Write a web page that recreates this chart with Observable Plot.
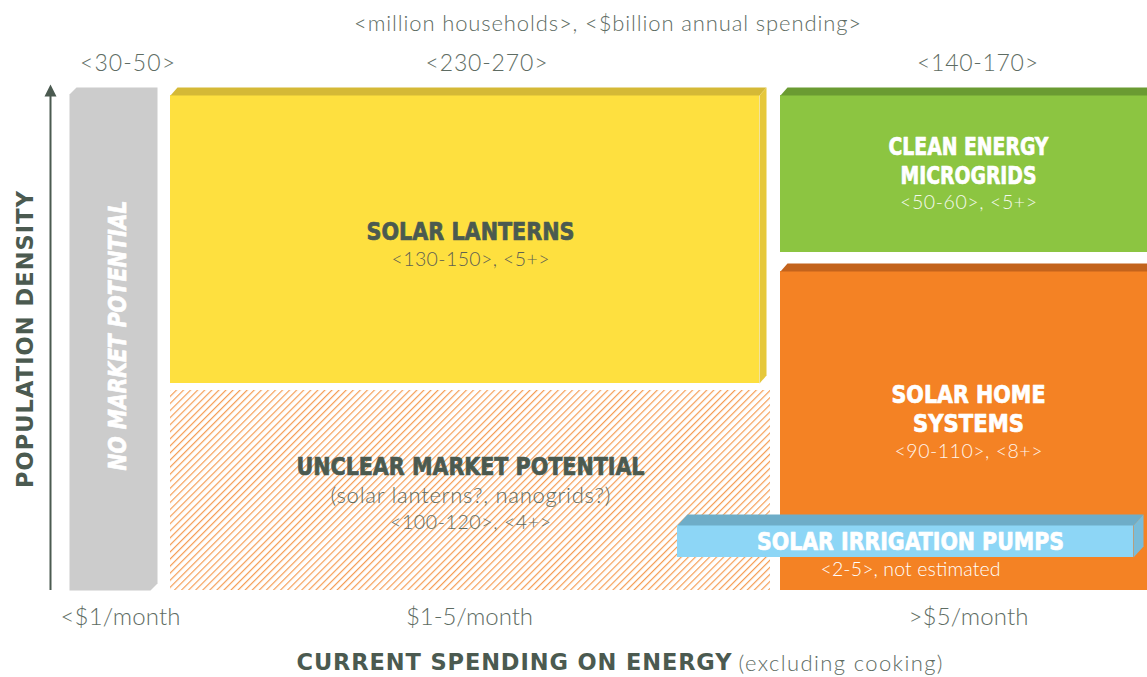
<!DOCTYPE html>
<html>
<head>
<meta charset="utf-8">
<script src="https://cdn.jsdelivr.net/npm/d3@7"></script>
<script src="https://cdn.jsdelivr.net/npm/@observablehq/plot@0.6"></script>
<style>
  html, body { margin: 0; padding: 0; background: #fff; }
  #chart svg { display: block; }
</style>
</head>
<body>
<div id="chart"></div>
<script>
// ---- data ----
const axisTitle = "<million households>, <$billion annual spending>";
const columnLabels = ["<30-50>", "<230-270>", "<140-170>"];
const spendingLabels = ["<$1/month", "$1-5/month", ">$5/month"];
const segmentNames = ["NO MARKET POTENTIAL", "SOLAR LANTERNS", "UNCLEAR MARKET POTENTIAL", "CLEAN ENERGY|MICROGRIDS", "SOLAR HOME|SYSTEMS", "SOLAR IRRIGATION PUMPS"];
const segmentValues = ["", "<130-150>, <5+>", "<100-120>, <4+>", "<50-60>, <5+>", "<90-110>, <8+>", "<2-5>, not estimated"];
// segment extents in diagram units (spending across, density up-down)
const segX1 = [69, 170, 170, 780, 780, 677];
const segX2 = [157, 759, 770, 1147, 1147, 1133];
const segY1 = [87, 95, 390, 95, 271, 525];
const segY2 = [590, 383, 590, 252, 590, 557];

// ---- styles ----
const W = 1147, H = 677;
const dark = "#4b5a50", mid = "#5e6c63";
const cond = '"Liberation Sans Narrow", "DejaVu Sans Condensed", "Roboto Condensed", Arial, sans-serif';
const light = 'Lato, "Open Sans", sans-serif';
const boldSans = '"DejaVu Sans", "Open Sans", sans-serif';
const faceColors = ["#cccccc", "#fee03f", "url(#hatch)", "#8cc541", "#f48224", "#8dd6f6"];
const topColors = [null, "#d5b936", null, "#6a9b32", "#c3631c", "#6eadc8"];
const sideColors = [null, "#e6c83b", null, null, null, "#79bcd9"];
const bevel = [0, [7, 8], 0, [7, 8], [7, 8], [10, 11]];
// rendered widths to fit the reference typography
const fitWidth = {
  [axisTitle]: 507, "<30-50>": 95, "<230-270>": 122, "<140-170>": 121,
  "<$1/month": 120, "$1-5/month": 127, ">$5/month": 120,
  "CURRENT SPENDING ON ENERGY": 435, "(excluding cooking)": 204, "POPULATION DENSITY": 297,
  "<130-150>, <5+>": 158, "<100-120>, <4+>": 161, "<50-60>, <5+>": 137, "<90-110>, <8+>": 148,
  "<2-5>, not estimated": 180, "(solar lanterns?, nanogrids?)": 280,
  "SOLAR LANTERNS": 208, "UNCLEAR MARKET POTENTIAL": 348, "CLEAN ENERGY": 160, "MICROGRIDS": 136,
  "SOLAR HOME": 154, "SYSTEMS": 111, "SOLAR IRRIGATION PUMPS": 307, "NO MARKET POTENTIAL": 270
};
const condensedTitles = new Set(segmentNames.flatMap(n => n.split("|")));

const segs = segmentNames.map((name, i) => ({name, value: segmentValues[i], x1: segX1[i], x2: segX2[i], y1: segY1[i], y2: segY2[i], i}));

const marks = [];
// hatch pattern defs
marks.push(() => {
  const defs = d3.create("svg:defs");
  const p = defs.append("pattern").attr("id", "hatch").attr("patternUnits", "userSpaceOnUse")
    .attr("width", 5).attr("height", 5).attr("patternTransform", "rotate(45)");
  p.append("line").attr("x1", 0.6).attr("y1", 0).attr("x2", 0.6).attr("y2", 5)
    .attr("stroke", "#f59d55").attr("stroke-width", 1.2);
  return defs.node();
});

const poly = (pts, fill) => Plot.line(pts, {x: d => d[0], y: d => d[1], fill, stroke: "none", curve: "linear-closed"});
function box(s, i) {
  marks.push(Plot.rect([s], {x1: "x1", x2: "x2", y1: "y1", y2: "y2", fill: faceColors[i]}));
  if (bevel[i]) {
    const [dx, dy] = bevel[i];
    marks.push(poly([[s.x1, s.y1], [s.x1 + dx, s.y1 - dy], [s.x2 + dx, s.y1 - dy], [s.x2, s.y1]], topColors[i]));
    if (sideColors[i]) marks.push(poly([[s.x2, s.y1], [s.x2 + dx, s.y1 - dy], [s.x2 + dx, s.y2 - dy], [s.x2, s.y2]], sideColors[i]));
  }
}
segs.forEach((s, i) => {
  if (i === 0) {
    const c = 7; // chamfered gray bar
    marks.push(poly([[s.x1, s.y1 + c], [s.x1 + c, s.y1], [s.x2, s.y1], [s.x2, s.y2 - c], [s.x2 - c, s.y2], [s.x1, s.y2]], faceColors[0]));
  } else if (i !== 5) box(s, i);
});
box(segs[5], 5); // pumps drawn on top

// y-axis arrow
marks.push(Plot.ruleX([50], {y1: 590, y2: 94, stroke: dark, strokeWidth: 2}));
marks.push(poly([[44, 96], [50, 84], [56, 96]], dark));

// top titles
marks.push(Plot.text([axisTitle], {x: 607, y: 23, text: d => d, fontFamily: light, fontWeight: 300, fontSize: 22, fill: mid}));
const colX = [127, 486, 977];
marks.push(Plot.text(columnLabels, {x: (d, i) => colX[i], y: 63, text: d => d, fontFamily: light, fontWeight: 300, fontSize: 23, fill: mid}));
// bottom labels
const spX = [120, 469, 968];
marks.push(Plot.text(spendingLabels, {x: (d, i) => spX[i], y: 617, text: d => d, fontFamily: light, fontWeight: 300, fontSize: 24, fill: mid}));
marks.push(Plot.text(["CURRENT SPENDING ON ENERGY"], {x: 731, y: 662, text: d => d, textAnchor: "end", fontFamily: boldSans, fontWeight: "bold", fontSize: 22.5, fill: dark}));
marks.push(Plot.text(["(excluding cooking)"], {x: 738, y: 663, text: d => d, textAnchor: "start", fontFamily: light, fontWeight: 300, fontSize: 22, fill: mid}));
marks.push(Plot.text(["POPULATION DENSITY"], {x: 25, y: 339, text: d => d, rotate: -90, fontFamily: boldSans, fontWeight: "bold", fontSize: 22.5, fill: dark}));

// segment labels
const titleY = [335, 231, 466, 146, 394, 541];
const valueY = [0, 259, 522, 202, 451, 569];
const titleFill = ["#ffffff", dark, dark, "#ffffff", "#ffffff", "#ffffff"];
const valueFill = ["#ffffff", "#5f6152", mid, "#f4f9ee", "#fff4ec", "#ffffff"];
const tx = [117, 470, 470, 968, 968, 910];
segs.forEach((s, i) => {
  s.name.split("|").forEach((ln, k) => {
    marks.push(Plot.text([ln], {x: tx[i], y: titleY[i] + k * 29, text: d => d, rotate: i === 0 ? -90 : 0,
      fontFamily: cond, fontWeight: "bold", fontStyle: i === 0 ? "italic" : "normal", fontSize: 25,
      fill: titleFill[i], stroke: titleFill[i], strokeWidth: 0.7}));
  });
  if (s.value) {
    marks.push(Plot.text([s.value], {x: tx[i], y: valueY[i], text: d => d, fontFamily: light, fontWeight: 300, fontSize: 19.5, fill: valueFill[i]}));
  }
});
marks.push(Plot.text(["(solar lanterns?, nanogrids?)"], {x: 470, y: 495, text: d => d, fontFamily: light, fontWeight: 300, fontSize: 22, fill: mid}));

const chart = Plot.plot({
  width: W, height: H,
  margin: 0,
  x: {domain: [0, W], range: [0, W], axis: null},
  y: {domain: [0, H], range: [0, H], axis: null},
  marks
});
document.getElementById("chart").appendChild(chart);

// fit text widths to the reference typography
d3.select(chart).selectAll("text").each(function () {
  const t = this.textContent;
  if (fitWidth[t]) {
    d3.select(this).attr("textLength", fitWidth[t])
      .attr("lengthAdjust", condensedTitles.has(t) ? "spacingAndGlyphs" : "spacing");
  }
});
</script>
</body>
</html>
